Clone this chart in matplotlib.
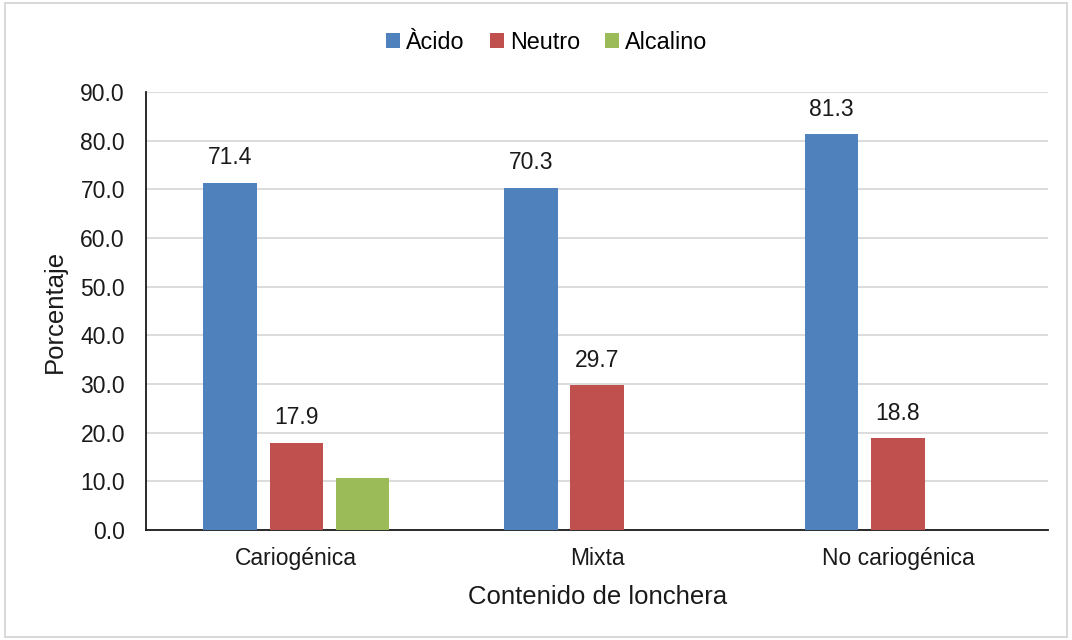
import numpy as np
import matplotlib.pyplot as plt
from matplotlib.patches import Rectangle

plt.rcParams['font.family'] = ['Liberation Sans', 'DejaVu Sans']

categorias = ['Cariogénica', 'Mixta', 'No cariogénica']
acido = [71.4, 70.3, 81.3]
neutro = [17.9, 29.7, 18.8]
alcalino = [10.7, 0, 0]
series = ['Àcido', 'Neutro', 'Alcalino']
colores = ['#4f81bd', '#c0504d', '#9bbb59']

fig = plt.figure(figsize=(10.72, 6.4), dpi=100)
ax = fig.add_axes([0.136, 0.172, 0.842, 0.684])

x = np.arange(len(categorias))
w = 0.177
step = 0.22
valores = [acido, neutro, alcalino]
for k in range(3):
    vals = valores[k]
    xs = x + (k - 1) * step
    mask = [v > 0 for v in vals]
    bars = ax.bar(xs[mask], np.array(vals)[mask], width=w, color=colores[k],
                  label=series[k], zorder=3)
    if k < 2:
        for b, v in zip(bars, np.array(vals)[mask]):
            ax.text(b.get_x() + b.get_width() / 2, v + 2.8, '%.1f' % v,
                    ha='center', va='bottom', fontsize=16.5, color='#1a1a1a')

ax.set_xlim(-0.5, 2.5)
ax.set_ylim(0, 90)
ax.set_yticks(np.arange(0, 91, 10))
ax.set_yticklabels(['%.1f' % t for t in np.arange(0, 91, 10)])
ax.set_xticks(x)
ax.set_xticklabels(categorias)
ax.tick_params(axis='both', labelsize=16.5, length=0, colors='#1a1a1a')
ax.tick_params(axis='y', pad=15)
ax.tick_params(axis='x', pad=12)
ax.grid(axis='y', color='#d9d9d9', linewidth=1.3, zorder=0)
for s in ['top', 'right']:
    ax.spines[s].set_visible(False)
ax.spines['left'].set_color('#1a1a1a')
ax.spines['bottom'].set_color('#1a1a1a')
ax.spines['left'].set_linewidth(1.3)
ax.spines['bottom'].set_linewidth(1.3)

ax.set_xlabel('Contenido de lonchera', fontsize=18.5, color='#1a1a1a')
ax.set_ylabel('Porcentaje', fontsize=18.5, color='#1a1a1a')
ax.xaxis.set_label_coords(0.5, -0.153)
ax.yaxis.set_label_coords(-0.101, 0.5)
ax.xaxis.label.set_va('center')
ax.yaxis.label.set_va('center')

leg = fig.legend(loc='center', bbox_to_anchor=(0.51, 0.934), ncol=3, frameon=False,
                 fontsize=16.8, handlelength=0.6, handleheight=0.6, handletextpad=0.25,
                 columnspacing=1.1)

fig.patches.append(Rectangle((0.005, 0.005), 0.99, 0.99, transform=fig.transFigure,
                             fill=False, edgecolor='#d9d9d9', linewidth=1.5))

fig.savefig('out.png', dpi=100)
